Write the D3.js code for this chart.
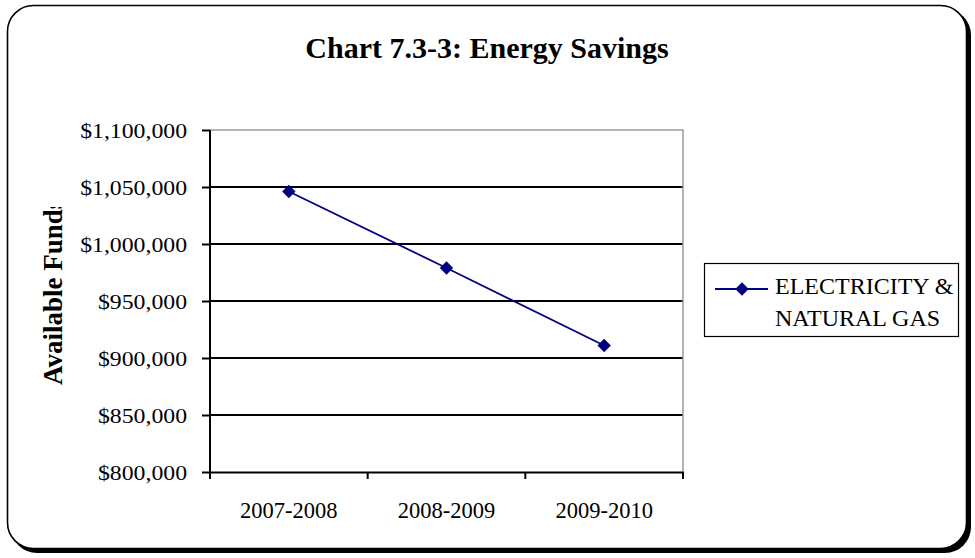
<!DOCTYPE html>
<html>
<head>
<meta charset="utf-8">
<script src="https://cdn.jsdelivr.net/npm/d3@7"></script>
<style>
  html, body { margin: 0; padding: 0; background: #fff; }
  svg { display: block; }
  text { font-family: "Liberation Serif", "Times New Roman", serif; fill: #000; }
</style>
</head>
<body>
<script>
// Energy savings: available funds per fiscal period
const periods = ["2007-2008", "2008-2009", "2009-2010"];
const funds = [1046000, 979000, 911000];
const yTicks = [800000, 850000, 900000, 950000, 1000000, 1050000, 1100000];
const seriesName = ["ELECTRICITY &", "NATURAL GAS"];
const chartTitle = "Chart 7.3-3: Energy Savings";
const yTitle = "Available Funds";

const W = 975, H = 558;
const serif = '"Liberation Serif", "Times New Roman", serif';
const svg = d3.select("body").append("svg").attr("width", W).attr("height", H);

// Rounded frame with a drop shadow on the right and bottom
svg.append("rect").attr("x", 11).attr("y", 9).attr("width", 960).attr("height", 544)
  .attr("rx", 26).attr("fill", "#000");
svg.append("rect").attr("x", 7.5).attr("y", 5.5).attr("width", 959).attr("height", 543)
  .attr("rx", 26).attr("fill", "#fff").attr("stroke", "#000").attr("stroke-width", 1.6);

svg.append("text").attr("x", 487).attr("y", 58).attr("text-anchor", "middle")
  .style("font-size", "30px").style("font-weight", "bold").text(chartTitle);

const plot = { left: 210, right: 683, top: 130, bottom: 472 };

const x = d3.scaleBand().domain(periods).range([plot.left, plot.right]).padding(0);
const y = d3.scaleLinear().domain([800000, 1100000]).range([plot.bottom, plot.top]);

// Horizontal gridlines
svg.append("g").selectAll("line").data(yTicks.filter(d => d > 800000 && d < 1100000)).join("line")
  .attr("x1", plot.left).attr("x2", plot.right)
  .attr("y1", d => y(d)).attr("y2", d => y(d))
  .attr("stroke", "#000").attr("stroke-width", 2);

// Plot area border (top and right in grey)
svg.append("path")
  .attr("d", `M${plot.left},${plot.top}H${plot.right}V${plot.bottom}`)
  .attr("fill", "none").attr("stroke", "#9a9a9a").attr("stroke-width", 1.5);

// Y axis
const fmt = d => "$" + d3.format(",")(d);
const yAxis = svg.append("g").attr("transform", `translate(${plot.left},0)`)
  .call(d3.axisLeft(y).tickValues(yTicks).tickFormat(fmt).tickSize(8).tickPadding(15));
yAxis.select(".domain").attr("stroke", "#000").attr("stroke-width", 2).attr("d", `M0,${plot.top}V${plot.bottom}`);
yAxis.selectAll(".tick line").attr("stroke", "#000").attr("stroke-width", 2);
yAxis.selectAll(".tick text").style("font-size", "22px")
  .style("font-family", serif).attr("fill", "#000")
  .attr("transform", "scale(1.08,1)").attr("x", -23 / 1.08);

// X axis
const xAxis = svg.append("g").attr("transform", `translate(0,${plot.bottom})`)
  .call(d3.axisBottom(x).tickSize(0).tickPadding(30));
xAxis.select(".domain").attr("stroke", "#000").attr("stroke-width", 2);
xAxis.selectAll(".tick text").style("font-size", "22.5px")
  .style("font-family", serif).attr("fill", "#000");
// Category separator ticks
const edges = [plot.left].concat(periods.map(p => x(p) + x.bandwidth()));
svg.append("g").selectAll("line").data(edges).join("line")
  .attr("x1", d => d).attr("x2", d => d)
  .attr("y1", plot.bottom).attr("y2", plot.bottom + 7)
  .attr("stroke", "#000").attr("stroke-width", 2);

// Y axis title, clipped at the top
svg.append("clipPath").attr("id", "ytclip")
  .append("rect").attr("x", 20).attr("y", 207).attr("width", 60).attr("height", 220);
svg.append("g").attr("clip-path", "url(#ytclip)")
  .append("text")
  .attr("transform", "translate(62,385) rotate(-90)")
  .attr("text-anchor", "start")
  .style("font-size", "27px").style("font-weight", "bold")
  .text(yTitle);

// Series line and markers
const cx = d => x(d) + x.bandwidth() / 2;
const line = d3.line().x((d, i) => cx(periods[i])).y(d => y(d));
svg.append("path").datum(funds).attr("d", line)
  .attr("fill", "none").attr("stroke", "#000080").attr("stroke-width", 1.8);

const diamond = d3.symbol().type(d3.symbolSquare).size(90);
svg.append("g").selectAll("path").data(funds).join("path")
  .attr("d", diamond)
  .attr("transform", (d, i) => `translate(${cx(periods[i])},${y(d)}) rotate(45)`)
  .attr("fill", "#000080");

// Legend
const lg = svg.append("g");
lg.append("rect").attr("x", 704.5).attr("y", 263.5).attr("width", 254).attr("height", 73)
  .attr("fill", "#fff").attr("stroke", "#000").attr("stroke-width", 1.2);
lg.append("line").attr("x1", 715).attr("x2", 768).attr("y1", 289).attr("y2", 289)
  .attr("stroke", "#000080").attr("stroke-width", 1.8);
lg.append("path").attr("d", diamond).attr("transform", "translate(742,289) rotate(45)")
  .attr("fill", "#000080");
lg.selectAll("text.item").data(seriesName).join("text").attr("class", "item")
  .attr("x", 775).attr("y", (d, i) => 294 + i * 32)
  .style("font-size", "24px").text(d => d);
</script>
</body>
</html>
